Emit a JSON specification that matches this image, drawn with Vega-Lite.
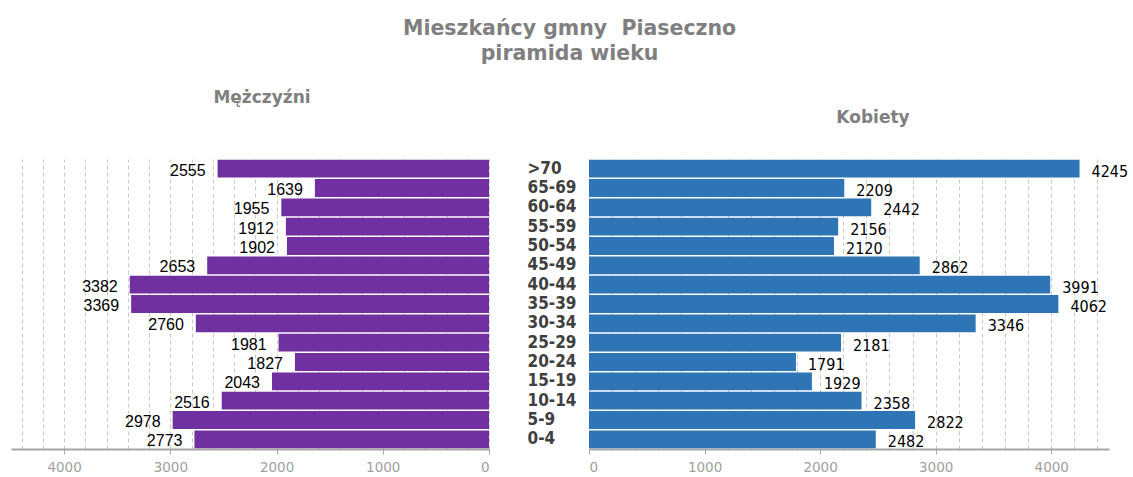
{
  "$schema": "https://vega.github.io/schema/vega-lite/v6.json",
  "background": "white",
  "padding": {"left": 11, "top": 18, "right": 3, "bottom": 5},
  "title": {
    "text": ["Mieszkańcy gmny\u00a0\u00a0Piaseczno", "piramida wieku"],
    "font": "DejaVu Sans",
    "fontSize": 20.5,
    "fontWeight": "bold",
    "color": "#7f7f7f",
    "anchor": "middle",
    "lineHeight": 25,
    "offset": 25
  },
  "data": {
    "values": [
      {"age": ">70", "men": 2555, "women": 4245},
      {"age": "65-69", "men": 1639, "women": 2209},
      {"age": "60-64", "men": 1955, "women": 2442},
      {"age": "55-59", "men": 1912, "women": 2156},
      {"age": "50-54", "men": 1902, "women": 2120},
      {"age": "45-49", "men": 2653, "women": 2862},
      {"age": "40-44", "men": 3382, "women": 3991},
      {"age": "35-39", "men": 3369, "women": 4062},
      {"age": "30-34", "men": 2760, "women": 3346},
      {"age": "25-29", "men": 1981, "women": 2181},
      {"age": "20-24", "men": 1827, "women": 1791},
      {"age": "15-19", "men": 2043, "women": 1929},
      {"age": "10-14", "men": 2516, "women": 2358},
      {"age": "5-9", "men": 2978, "women": 2822},
      {"age": "0-4", "men": 2773, "women": 2482}
    ]
  },
  "spacing": 100,
  "bounds": "flush",
  "hconcat": [
    {
      "width": 478,
      "height": 290,
      "title": {
        "text": "Mężczyźni",
        "font": "DejaVu Sans",
        "fontSize": 17,
        "fontWeight": "bold",
        "color": "#808080",
        "anchor": "middle",
        "dx": 12,
        "offset": 52
      },
      "encoding": {
        "y": {
          "field": "age",
          "type": "nominal",
          "sort": [">70", "65-69", "60-64", "55-59", "50-54", "45-49", "40-44", "35-39", "30-34", "25-29", "20-24", "15-19", "10-14", "5-9", "0-4"],
          "axis": null,
          "scale": {"paddingInner": 0.08, "paddingOuter": 0.04}
        },
        "x": {
          "field": "men",
          "type": "quantitative",
          "scale": {"domain": [0, 4500], "reverse": true, "nice": false},
          "axis": {
            "title": null,
            "values": [0, 200, 400, 600, 800, 1000, 1200, 1400, 1600, 1800, 2000, 2200, 2400, 2600, 2800, 3000, 3200, 3400, 3600, 3800, 4000, 4200, 4400],
            "labelExpr": "datum.value % 1000 === 0 ? datum.label : ''",
            "format": "d",
            "tickOpacity": {"condition": {"test": "datum.value % 1000 === 0", "value": 1}, "value": 0},
            "grid": true,
            "gridColor": "#c8c8c8",
            "gridDash": [4, 3],
            "domainColor": "#a6a6a6",
            "domainWidth": 2,
            "tickColor": "#a6a6a6",
            "tickSize": 5,
            "labelColor": "#a0a0a0",
            "labelFont": "DejaVu Sans",
            "labelFontSize": 13.5,
            "labelPadding": 6
          }
        }
      },
      "layer": [
        {"mark": {"type": "bar", "color": "#7030a0"}},
        {
          "mark": {"type": "text", "align": "right", "baseline": "middle", "dx": -12, "dy": 2, "font": "Liberation Sans", "fontSize": 16, "color": "#000000"},
          "encoding": {"text": {"field": "men", "type": "quantitative"}}
        }
      ]
    },
    {
      "width": 520,
      "height": 290,
      "title": {
        "text": "Kobiety",
        "font": "DejaVu Sans",
        "fontSize": 17,
        "fontWeight": "bold",
        "color": "#808080",
        "anchor": "middle",
        "dx": 24,
        "offset": 32
      },
      "encoding": {
        "y": {
          "field": "age",
          "type": "nominal",
          "sort": [">70", "65-69", "60-64", "55-59", "50-54", "45-49", "40-44", "35-39", "30-34", "25-29", "20-24", "15-19", "10-14", "5-9", "0-4"],
          "scale": {"paddingInner": 0.08, "paddingOuter": 0.04},
          "axis": {
            "title": null,
            "domain": false,
            "ticks": false,
            "tickSize": 0,
            "grid": false,
            "labelFont": "DejaVu Sans Condensed",
            "labelFontWeight": "bold",
            "labelFontSize": 17,
            "labelColor": "#404040",
            "labelAlign": "left",
            "labelPadding": 62
          }
        },
        "x": {
          "field": "women",
          "type": "quantitative",
          "scale": {"domain": [0, 4500], "nice": false},
          "axis": {
            "title": null,
            "values": [0, 200, 400, 600, 800, 1000, 1200, 1400, 1600, 1800, 2000, 2200, 2400, 2600, 2800, 3000, 3200, 3400, 3600, 3800, 4000, 4200, 4400],
            "labelExpr": "datum.value % 1000 === 0 ? datum.label : ''",
            "format": "d",
            "tickOpacity": {"condition": {"test": "datum.value % 1000 === 0", "value": 1}, "value": 0},
            "grid": true,
            "gridColor": "#c8c8c8",
            "gridDash": [4, 3],
            "domainColor": "#a6a6a6",
            "domainWidth": 2,
            "tickColor": "#a6a6a6",
            "tickSize": 5,
            "labelColor": "#a0a0a0",
            "labelFont": "DejaVu Sans",
            "labelFontSize": 13.5,
            "labelPadding": 6
          }
        }
      },
      "layer": [
        {"mark": {"type": "bar", "color": "#2e75b6"}},
        {
          "mark": {"type": "text", "align": "left", "baseline": "middle", "dx": 12, "dy": 3, "font": "DejaVu Sans Condensed", "fontSize": 16, "color": "#000000"},
          "encoding": {"text": {"field": "women", "type": "quantitative"}}
        }
      ]
    }
  ],
  "config": {"view": {"stroke": null}}
}
